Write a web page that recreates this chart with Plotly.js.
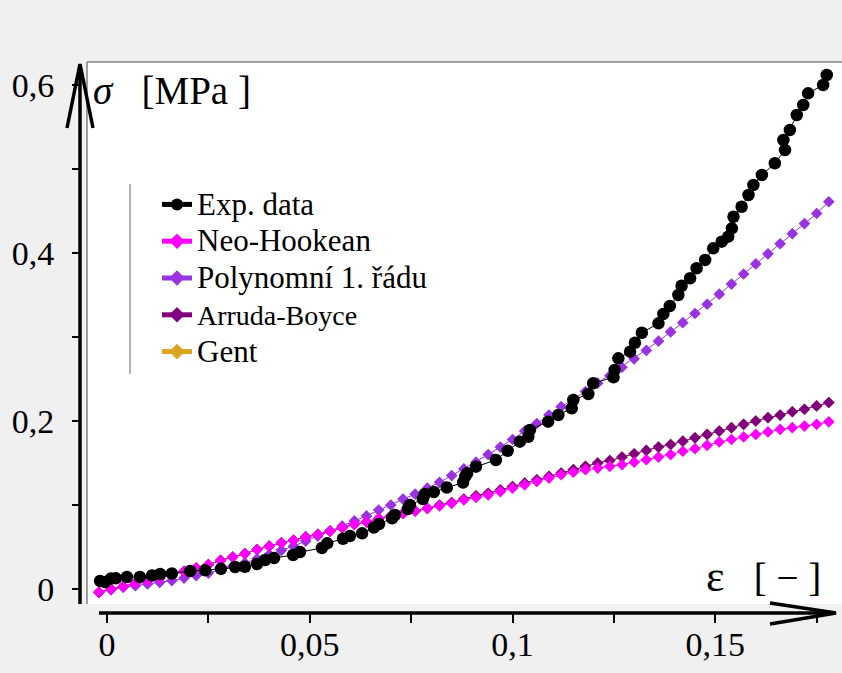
<!DOCTYPE html>
<html>
<head>
<meta charset="utf-8">
<script src="https://cdn.plot.ly/plotly-3.0.1.min.js"></script>
<style>html,body{margin:0;padding:0;background:#f0f0f0;}#chart{width:842px;height:673px;}</style>
</head>
<body>
<div id="chart"></div>
<script>
// Experimental data
const expStrain = [-0.0017, -0.0005, 0.0010, 0.0022, 0.0049, 0.0081, 0.0111, 0.0131, 0.0160, 0.0205, 0.0242, 0.0281, 0.0316, 0.0340, 0.0370, 0.0390, 0.0412, 0.0459, 0.0476, 0.0530, 0.0543, 0.0582, 0.0599, 0.0629, 0.0658, 0.0671, 0.0703, 0.0710, 0.0742, 0.0747, 0.0779, 0.0784, 0.0806, 0.0838, 0.0878, 0.0883, 0.0888, 0.0910, 0.0959, 0.0988, 0.1018, 0.1039, 0.1043, 0.1088, 0.1113, 0.1146, 0.1150, 0.1187, 0.1199, 0.1249, 0.1252, 0.1261, 0.1290, 0.1302, 0.1319, 0.1360, 0.1372, 0.1388, 0.1409, 0.1417, 0.1438, 0.1454, 0.1475, 0.1495, 0.1516, 0.1532, 0.1541, 0.1545, 0.1565, 0.1582, 0.1594, 0.1615, 0.1647, 0.1672, 0.1668, 0.1684, 0.1701, 0.1717, 0.1729, 0.1766, 0.1775];
const expStress = [0.0095, 0.0083, 0.0125, 0.0127, 0.0143, 0.0143, 0.0161, 0.0179, 0.0185, 0.0214, 0.0223, 0.0240, 0.0262, 0.0265, 0.0298, 0.0345, 0.0369, 0.0405, 0.0440, 0.0488, 0.0544, 0.0598, 0.0631, 0.0663, 0.0732, 0.0774, 0.0842, 0.0881, 0.0952, 0.1000, 0.1071, 0.1131, 0.1155, 0.1208, 0.1268, 0.1337, 0.1377, 0.1456, 0.1536, 0.1645, 0.1754, 0.1813, 0.1893, 0.1992, 0.2071, 0.2151, 0.2250, 0.2321, 0.2449, 0.2520, 0.2607, 0.2746, 0.2825, 0.2932, 0.3051, 0.3163, 0.3274, 0.3369, 0.3500, 0.3610, 0.3699, 0.3818, 0.3917, 0.4056, 0.4135, 0.4194, 0.4294, 0.4432, 0.4551, 0.4690, 0.4810, 0.4929, 0.5068, 0.5226, 0.5345, 0.5464, 0.5643, 0.5762, 0.5901, 0.6000, 0.6119];

// Model strains
const modelStrain = [-0.002, 0.001, 0.004, 0.007, 0.010, 0.013, 0.016, 0.019, 0.022, 0.025, 0.028, 0.031, 0.034, 0.037, 0.040, 0.043, 0.046, 0.049, 0.052, 0.055, 0.058, 0.061, 0.064, 0.067, 0.070, 0.073, 0.076, 0.079, 0.082, 0.085, 0.088, 0.091, 0.094, 0.097, 0.100, 0.103, 0.106, 0.109, 0.112, 0.115, 0.118, 0.121, 0.124, 0.127, 0.130, 0.133, 0.136, 0.139, 0.142, 0.145, 0.148, 0.151, 0.154, 0.157, 0.160, 0.163, 0.166, 0.169, 0.172, 0.175, 0.178];

const neoHookean = [-0.004, 0.000, 0.003, 0.007, 0.010, 0.013, 0.017, 0.021, 0.025, 0.029, 0.034, 0.038, 0.042, 0.047, 0.051, 0.055, 0.058, 0.062, 0.065, 0.069, 0.073, 0.077, 0.080, 0.084, 0.087, 0.090, 0.093, 0.096, 0.099, 0.102, 0.106, 0.109, 0.112, 0.116, 0.120, 0.124, 0.128, 0.132, 0.136, 0.139, 0.142, 0.144, 0.146, 0.148, 0.151, 0.154, 0.157, 0.160, 0.164, 0.167, 0.171, 0.175, 0.178, 0.181, 0.184, 0.187, 0.190, 0.192, 0.194, 0.196, 0.199];

const polynomial = [-0.004, -0.001, 0.002, 0.004, 0.006, 0.008, 0.010, 0.013, 0.016, 0.019, 0.023, 0.027, 0.031, 0.036, 0.041, 0.046, 0.051, 0.057, 0.063, 0.069, 0.075, 0.081, 0.087, 0.094, 0.100, 0.107, 0.113, 0.120, 0.127, 0.135, 0.143, 0.151, 0.160, 0.169, 0.178, 0.188, 0.197, 0.207, 0.217, 0.226, 0.235, 0.245, 0.254, 0.264, 0.274, 0.284, 0.295, 0.306, 0.317, 0.328, 0.339, 0.351, 0.363, 0.375, 0.387, 0.399, 0.411, 0.423, 0.435, 0.447, 0.461];

const arrudaBoyce = [-0.004, 0.000, 0.003, 0.007, 0.010, 0.013, 0.017, 0.021, 0.025, 0.029, 0.034, 0.038, 0.042, 0.047, 0.051, 0.055, 0.058, 0.062, 0.065, 0.069, 0.073, 0.077, 0.080, 0.084, 0.087, 0.090, 0.093, 0.096, 0.100, 0.103, 0.107, 0.111, 0.114, 0.118, 0.122, 0.126, 0.130, 0.134, 0.138, 0.142, 0.146, 0.150, 0.153, 0.157, 0.161, 0.165, 0.169, 0.172, 0.176, 0.180, 0.184, 0.188, 0.192, 0.196, 0.200, 0.204, 0.207, 0.211, 0.214, 0.218, 0.222];

const gent = [-0.004, 0.000, 0.003, 0.007, 0.010, 0.013, 0.017, 0.021, 0.025, 0.029, 0.034, 0.038, 0.042, 0.047, 0.051, 0.055, 0.058, 0.062, 0.065, 0.069, 0.073, 0.077, 0.080, 0.084, 0.087, 0.090, 0.093, 0.096, 0.100, 0.103, 0.107, 0.111, 0.114, 0.118, 0.122, 0.126, 0.130, 0.134, 0.138, 0.142, 0.146, 0.150, 0.153, 0.157, 0.161, 0.165, 0.169, 0.172, 0.176, 0.180, 0.184, 0.188, 0.192, 0.196, 0.200, 0.204, 0.207, 0.211, 0.214, 0.218, 0.222];

const seriesNames = ['Exp. data', 'Neo-Hookean', 'Polynomní 1. řádu', 'Arruda-Boyce', 'Gent'];
const seriesColors = ['#000000', '#ff00ff', '#9933e0', '#800080', '#daa520'];

const SERIF = 'Liberation Serif, Times New Roman, serif';

// ---- layout geometry (pixels) ----
const W = 842, H = 673;
const L = 80, R = 838, T = 62, B = 613;
const xp = px => (px - L) / (R - L);
const yp = py => (B - py) / (B - T);

function nm(t, s) { return '<span style="font-size:' + s + 'px">' + t + '</span>'; }

function modelTrace(y, i, rank) {
  return {
    x: modelStrain, y: y, type: 'scatter', mode: 'lines+markers',
    name: nm(seriesNames[i], i === 3 ? 28 : 31), legendrank: rank,
    line: {color: seriesColors[i], width: 1},
    marker: {symbol: 'diamond', size: 9, color: seriesColors[i]}
  };
}

const traces = [
  modelTrace(gent, 4, 5),
  modelTrace(arrudaBoyce, 3, 4),
  modelTrace(polynomial, 2, 3),
  modelTrace(neoHookean, 1, 2),
  {
    x: expStrain, y: expStress, type: 'scatter', mode: 'lines+markers',
    name: nm(seriesNames[0], 31), legendrank: 1,
    line: {color: seriesColors[0], width: 1},
    marker: {symbol: 'circle', size: 12.5, color: seriesColors[0]}
  }
];

const axisLine = {color: '#000', width: 3.5};
const layout = {
  width: W, height: H,
  margin: {l: L, r: W - R, t: T, b: H - B, pad: 0},
  paper_bgcolor: '#f0f0f0',
  plot_bgcolor: 'rgba(0,0,0,0)',
  separators: ', ',
  font: {family: SERIF, color: '#000', size: 33},
  showlegend: true,
  legend: {
    x: xp(157), y: yp(181), xanchor: 'left', yanchor: 'top',
    bgcolor: 'rgba(0,0,0,0)', borderwidth: 0,
    font: {size: 26, color: '#000', family: SERIF},
    itemsizing: 'constant', traceorder: 'normal'
  },
  xaxis: {
    range: [(L - 107) / 4055, (R - 107) / 4055],
    showgrid: false, zeroline: false, showline: false,
    tick0: 0, dtick: 0.05,
    ticks: 'outside', ticklen: 9, tickwidth: 2, tickcolor: '#000',
    minor: {dtick: 0.025, ticks: 'outside', ticklen: 9, tickwidth: 2, tickcolor: '#000', showgrid: false},
    tickfont: {size: 34, color: '#000', family: SERIF},
    ticklabelstandoff: -8
  },
  yaxis: {
    range: [(589 - B) / 840, (589 - T) / 840],
    showgrid: false, zeroline: false, showline: false,
    tick0: 0, dtick: 0.2,
    ticks: 'outside', ticklen: 7, tickwidth: 2, tickcolor: '#000',
    minor: {dtick: 0.1, ticks: 'outside', ticklen: 7, tickwidth: 2, tickcolor: '#000', showgrid: false},
    tickfont: {size: 34, color: '#000', family: SERIF},
    ticklabelstandoff: 11
  },
  shapes: [
    {type: 'rect', xref: 'paper', yref: 'paper', x0: xp(87), x1: xp(842), y0: yp(604), y1: yp(62),
     fillcolor: '#ffffff', line: {width: 0}, layer: 'below'},
    {type: 'line', xref: 'paper', yref: 'paper', x0: xp(87), x1: xp(842), y0: yp(62), y1: yp(62),
     line: {color: '#808080', width: 1.5}, layer: 'below'},
    {type: 'line', xref: 'paper', yref: 'paper', x0: xp(87), x1: xp(87), y0: yp(62), y1: yp(604),
     line: {color: '#808080', width: 1.5}, layer: 'below'},
    {type: 'line', xref: 'paper', yref: 'paper', x0: xp(130), x1: xp(130), y0: yp(184), y1: yp(374),
     line: {color: '#999999', width: 1.5}, layer: 'above'},
    {type: 'line', xref: 'paper', yref: 'paper', x0: xp(80), x1: xp(80), y0: yp(604), y1: yp(68),
     line: axisLine, layer: 'above'},
    {type: 'path', xref: 'paper', yref: 'paper',
     path: 'M' + xp(67) + ',' + yp(128) + ' L' + xp(80) + ',' + yp(64) + ' L' + xp(93) + ',' + yp(128),
     line: axisLine, layer: 'above'},
    {type: 'line', xref: 'paper', yref: 'paper', x0: xp(99), x1: xp(834), y0: yp(613), y1: yp(613),
     line: axisLine, layer: 'above'},
    {type: 'path', xref: 'paper', yref: 'paper',
     path: 'M' + xp(770) + ',' + yp(603) + ' L' + xp(836) + ',' + yp(613) + ' L' + xp(770) + ',' + yp(624),
     line: axisLine, layer: 'above'}
  ],
  annotations: [
    {xref: 'paper', yref: 'paper', x: xp(91), y: yp(90), xanchor: 'left', yanchor: 'middle',
     text: '<i>σ</i>\u00a0\u00a0\u00a0[MPa\u00a0]', showarrow: false,
     font: {size: 39, color: '#000', family: SERIF}},
    {xref: 'paper', yref: 'paper', x: xp(823), y: yp(576), xanchor: 'right', yanchor: 'middle',
     text: '<span style="font-size:44px">ε</span>\u00a0\u00a0\u00a0[\u00a0\u2212\u00a0]', showarrow: false,
     font: {size: 39, color: '#000', family: SERIF}}
  ]
};

Plotly.newPlot('chart', traces, layout, {displayModeBar: false, staticPlot: true});
</script>
</body>
</html>
